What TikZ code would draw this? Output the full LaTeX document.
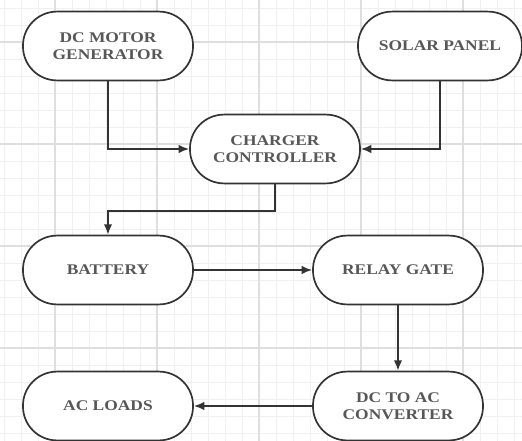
\documentclass[tikz,border=0pt]{standalone}
\usepackage{fontspec}
\setmainfont{Liberation Serif}[FakeStretch=1.18]
\usepackage{tikz}
\usetikzlibrary{arrows.meta}
\tikzset{>={Latex[length=2.6mm, width=2.1mm]}}
\colorlet{gridcol}{black!6}
\colorlet{gridmaj}{black!13}
\colorlet{boxcol}{black!80}
\colorlet{txtcol}{black!66}
\tikzset{
    block/.style={draw=boxcol, line width=1.2pt, fill=white, rounded corners=0.85cm,
        minimum width=4.25cm, minimum height=1.72cm, align=center,
        text=txtcol, font=\fontsize{10.5}{12}\selectfont\bfseries},
    flow/.style={draw=boxcol, line width=1.2pt, ->}
}

\begin{document}
\begin{tikzpicture}[x=0.025cm, y=-0.025cm]
    \useasboundingbox (0,0) rectangle (522,441);

    % background grid
    \foreach \x in {0,17,...,522}
    {
        \draw[gridcol, line width=0.6pt] ({\x+4}, 0) -- ({\x+4}, 441);
    }
    \foreach \y in {0,17,...,441}
    {
        \draw[gridcol, line width=0.6pt] (0, {\y+8}) -- (522, {\y+8});
    }
    \foreach \x in {55, 157, 259, 361, 463}
    {
        \draw[gridmaj, line width=0.8pt] (\x, 0) -- (\x, 441);
    }
    \foreach \y in {42, 144, 246, 348}
    {
        \draw[gridmaj, line width=0.8pt] (0, \y) -- (522, \y);
    }

    % blocks
    \node[block] (dcmotor) at (108, 46) {DC MOTOR\\GENERATOR};
    \node[block, minimum width=4.1cm] (solar) at (440, 46) {SOLAR PANEL};
    \node[block] (charger) at (275, 149) {CHARGER\\CONTROLLER};
    \node[block] (battery) at (108, 270) {BATTERY};
    \node[block] (relay) at (398, 270) {RELAY GATE};
    \node[block] (dcac) at (398, 406) {DC TO AC\\CONVERTER};
    \node[block] (acloads) at (108, 406) {AC LOADS};

    % connections
    \draw[flow] (dcmotor.south) |- (charger.west);
    \draw[flow] (solar.south) |- (charger.east);
    \draw[flow] (charger.south) -- ++(0, 27) -| (battery.north);
    \draw[flow] (battery.east) -- (relay.west);
    \draw[flow] (relay.south) -- (dcac.north);
    \draw[flow] (dcac.west) -- (acloads.east);

\end{tikzpicture}
\end{document}
